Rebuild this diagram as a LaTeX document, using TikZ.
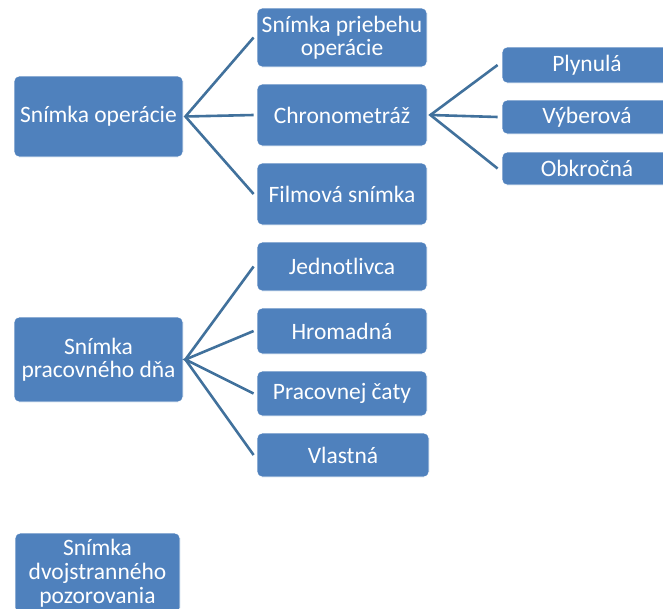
\documentclass[tikz,border=0pt]{standalone}
\usepackage{fontspec}
\setmainfont{Carlito}
\definecolor{boxblue}{HTML}{4F81BD}
\definecolor{lineblue}{HTML}{41719C}
\begin{document}
\begin{tikzpicture}[x=1pt,y=-1pt,
  box/.style={fill=boxblue,draw=white,line width=0.8pt,rounded corners=5pt,
    text=white,align=center,inner sep=0pt,
    font=\fontsize{23.5}{23}\selectfont},
  conn/.style={draw=lineblue,line width=2.6pt}]
\useasboundingbox (0,0) rectangle (663,608);
\clip (0,0) rectangle (663,608);
% group 1
\node[box,minimum width=169pt,minimum height=81pt] (op) at (98.5,116.5) {Snímka operácie};
\node[box,minimum width=170pt,minimum height=59pt] (pr) at (342,37.5) {Snímka priebehu\\operácie};
\node[box,minimum width=170pt,minimum height=62pt] (ch) at (342,115) {Chronometráž};
\node[box,minimum width=170pt,minimum height=62pt] (fi) at (342,194) {Filmová snímka};
\node[box,minimum width=170pt,minimum height=36pt] (pl) at (587,65) {Plynulá};
\node[box,minimum width=170pt,minimum height=34pt] (vy) at (587,117) {Výberová};
\node[box,minimum width=170pt,minimum height=33pt] (ob) at (587,168.5) {Obkročná};
% group 2
\node[box,minimum width=169pt,minimum height=85pt] (dn) at (98.5,359.5) {Snímka\\pracovného dňa};
\node[box,minimum width=170pt,minimum height=49pt] (je) at (342,266.5) {Jednotlivca};
\node[box,minimum width=170pt,minimum height=46pt] (hr) at (342,331) {Hromadná};
\node[box,minimum width=170pt,minimum height=45pt] (ca) at (342,393.5) {Pracovnej čaty};
\node[box,minimum width=172pt,minimum height=44pt] (vl) at (343,455) {Vlastná};
% group 3
\node[box,minimum width=165pt,minimum height=80pt,
  font=\fontsize{23.5}{24}\selectfont] (dv) at (97.5,573) {Snímka\\dvojstranného\\pozorovania};
% connectors
\coordinate (j1) at ([xshift=2pt]op.east);
\coordinate (j2) at ([xshift=3pt]ch.east);
\coordinate (j3) at ([xshift=2pt]dn.east);
\draw[conn] ([xshift=-3pt]pr.west) -- (j1) -- ([xshift=-3pt]fi.west);
\draw[conn] (j1) -- ([xshift=-3pt]ch.west);
\draw[conn] ([xshift=-4pt]pl.west) -- (j2) -- ([xshift=-4pt]ob.west);
\draw[conn] (j2) -- ([xshift=-4pt]vy.west);
\draw[conn] ([xshift=-3pt]je.west) -- (j3) -- ([xshift=-3pt]vl.west);
\draw[conn] ([xshift=-3pt]hr.west) -- (j3) -- ([xshift=-3pt]ca.west);
\end{tikzpicture}
\end{document}
